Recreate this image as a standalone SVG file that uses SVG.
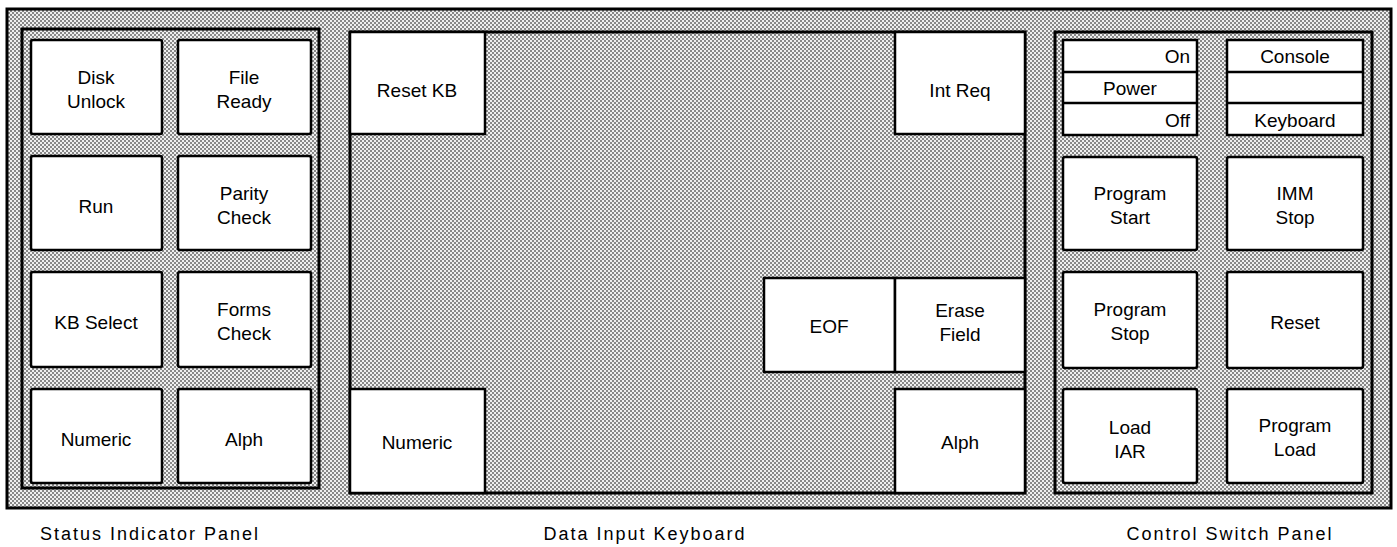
<svg xmlns="http://www.w3.org/2000/svg" width="1397" height="547" viewBox="0 0 1397 547">
<defs>
<pattern id="dots" width="4" height="4" patternUnits="userSpaceOnUse">
<rect width="4" height="4" fill="#efefef"/>
<rect width="2" height="2" fill="#888"/>
<rect x="2" y="2" width="2" height="2" fill="#888"/>
</pattern>
</defs>
<style>
.frame{fill:url(#dots);stroke:#000;stroke-width:3}
.key{fill:#fff;stroke:#000;stroke-width:2.5}
.sep{stroke:#000;stroke-width:2.5}
text{font-family:"Liberation Sans",Arial,sans-serif;font-size:19px;fill:#000}
.c{text-anchor:middle}
.e{text-anchor:end}
.lbl{font-size:18px;letter-spacing:2px;text-anchor:middle}
</style>
<rect x="7" y="9" width="1384" height="499" class="frame" stroke-width="3.5"/>

<g id="status-panel">
<rect x="22" y="29" width="297" height="459" class="frame"/>
<g id="disk-unlock"><rect x="31" y="40" width="131" height="94" rx="2" class="key"/><text x="96" y="84" class="c">Disk</text><text x="96" y="108" class="c">Unlock</text></g>
<g id="file-ready"><rect x="178" y="40" width="133" height="94" rx="2" class="key"/><text x="244" y="84" class="c">File</text><text x="244" y="108" class="c">Ready</text></g>
<g id="run"><rect x="31" y="156" width="131" height="94" rx="2" class="key"/><text x="96" y="213" class="c">Run</text></g>
<g id="parity-check"><rect x="178" y="156" width="133" height="94" rx="2" class="key"/><text x="244" y="200" class="c">Parity</text><text x="244" y="224" class="c">Check</text></g>
<g id="kb-select"><rect x="31" y="272" width="131" height="95" rx="2" class="key"/><text x="96" y="329" class="c">KB Select</text></g>
<g id="forms-check"><rect x="178" y="272" width="133" height="95" rx="2" class="key"/><text x="244" y="316" class="c">Forms</text><text x="244" y="340" class="c">Check</text></g>
<g id="numeric-status"><rect x="31" y="389" width="131" height="94" rx="2" class="key"/><text x="96" y="446" class="c">Numeric</text></g>
<g id="alph-status"><rect x="178" y="389" width="133" height="94" rx="2" class="key"/><text x="244" y="446" class="c">Alph</text></g>
</g>

<g id="keyboard-panel">
<rect x="350" y="32" width="675" height="461" class="frame" stroke-width="2.5"/>
<g id="reset-kb"><rect x="350" y="32" width="135" height="102" class="key"/><text x="417" y="97" class="c">Reset KB</text></g>
<g id="int-req"><rect x="895" y="32" width="130" height="102" class="key"/><text x="960" y="97" class="c">Int Req</text></g>
<g id="eof"><rect x="764" y="278" width="131" height="94" class="key"/><text x="829" y="333" class="c">EOF</text></g>
<g id="erase-field"><rect x="895" y="278" width="130" height="94" class="key"/><text x="960" y="317" class="c">Erase</text><text x="960" y="341" class="c">Field</text></g>
<g id="numeric-kb"><rect x="350" y="389" width="135" height="104" class="key"/><text x="417" y="449" class="c">Numeric</text></g>
<g id="alph-kb"><rect x="895" y="389" width="130" height="104" class="key"/><text x="960" y="449" class="c">Alph</text></g>
</g>

<g id="control-panel">
<rect x="1055" y="32" width="317" height="461" class="frame"/>
<g id="power-switch"><rect x="1063" y="40" width="134" height="95" class="key"/><line x1="1063" y1="72" x2="1197" y2="72" class="sep"/><line x1="1063" y1="103" x2="1197" y2="103" class="sep"/><text x="1190" y="63" class="e">On</text><text x="1103" y="95">Power</text><text x="1190" y="127" class="e">Off</text></g>
<g id="console-switch"><rect x="1227" y="40" width="136" height="95" class="key"/><line x1="1227" y1="72" x2="1363" y2="72" class="sep"/><line x1="1227" y1="103" x2="1363" y2="103" class="sep"/><text x="1295" y="63" class="c">Console</text><text x="1295" y="127" class="c">Keyboard</text></g>
<g id="program-start"><rect x="1063" y="157" width="134" height="93" rx="2" class="key"/><text x="1130" y="200" class="c">Program</text><text x="1130" y="224" class="c">Start</text></g>
<g id="imm-stop"><rect x="1227" y="157" width="136" height="93" rx="2" class="key"/><text x="1295" y="200" class="c">IMM</text><text x="1295" y="224" class="c">Stop</text></g>
<g id="program-stop"><rect x="1063" y="272" width="134" height="96" rx="2" class="key"/><text x="1130" y="316" class="c">Program</text><text x="1130" y="340" class="c">Stop</text></g>
<g id="reset"><rect x="1227" y="272" width="136" height="96" rx="2" class="key"/><text x="1295" y="329" class="c">Reset</text></g>
<g id="load-iar"><rect x="1063" y="389" width="134" height="94" rx="2" class="key"/><text x="1130" y="434" class="c">Load</text><text x="1130" y="458" class="c">IAR</text></g>
<g id="program-load"><rect x="1227" y="389" width="136" height="94" rx="2" class="key"/><text x="1295" y="432" class="c">Program</text><text x="1295" y="456" class="c">Load</text></g>
</g>

<g id="captions">
<text x="150" y="540" class="lbl">Status Indicator Panel</text>
<text x="645" y="540" class="lbl">Data Input Keyboard</text>
<text x="1230" y="540" class="lbl">Control Switch Panel</text>
</g>
</svg>
